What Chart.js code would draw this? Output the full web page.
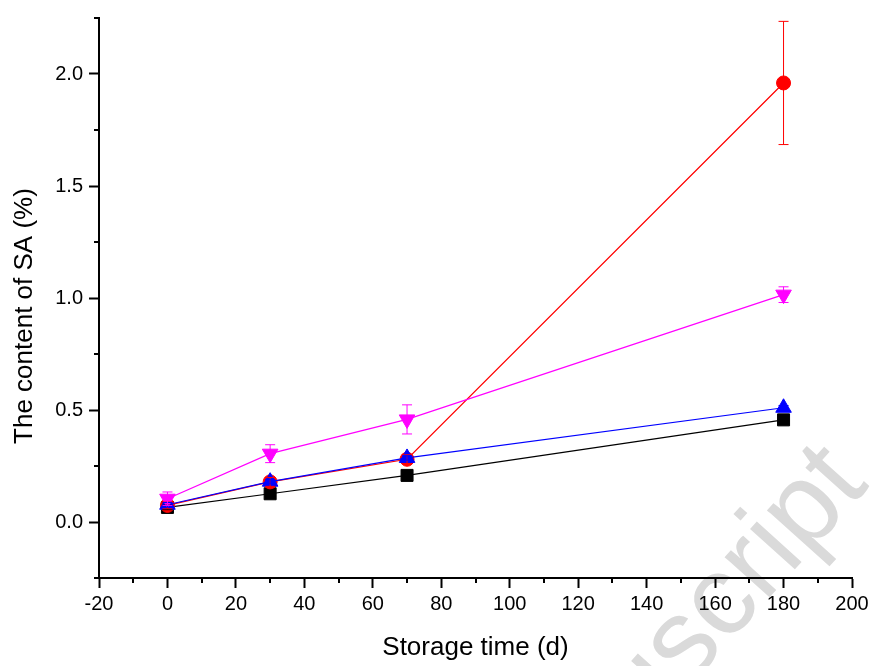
<!DOCTYPE html>
<html>
<head>
<meta charset="utf-8">
<script src="https://cdn.jsdelivr.net/npm/chart.js@4"></script>
<style>
  body { margin: 0; background: #fff; }
  canvas { display: block; }
</style>
</head>
<body>
<canvas id="saChart" width="877" height="666"></canvas>
<script>
// storage time (days)
const days = [0, 30, 70, 180];

// SA content (%) for each treatment, with error bars
const blackVals = [0.065, 0.126, 0.208, 0.456];
const blackErr = [0.01, 0.01, 0.01, 0.01];
const redVals = [0.074, 0.179, 0.28, 1.96];
const redErr = [0.015, 0.02, 0.02, 0.275];
const blueVals = [0.077, 0.18, 0.286, 0.51];
const blueErr = [0.01, 0.01, 0.01, 0.01];
const magentaVals = [0.104, 0.305, 0.458, 1.015];
const magentaErr = [0.03, 0.04, 0.065, 0.035];

const yTickVals = [0, 0.5, 1.0, 1.5, 2.0];
const xMinorTicks = [-10, 10, 30, 50, 70, 90, 110, 130, 150, 170, 190];
const yMinorTicks = [-0.25, 0.25, 0.75, 1.25, 1.75, 2.25];

const FONT = "Arial, 'Liberation Sans', sans-serif";

function toPoints(vals) {
    return days.map((d, i) => ({ x: d, y: vals[i] }));
}

function makeSet(vals, errs, color, style, radius, rotation, order) {
    return {
        data: toPoints(vals),
        errors: errs,
        borderColor: color,
        backgroundColor: color,
        borderWidth: 1.2,
        pointStyle: style,
        pointRadius: radius,
        pointRotation: rotation,
        pointBackgroundColor: color,
        pointBorderColor: color,
        pointBorderWidth: 1,
        order: order,
        tension: 0
    };
}

// draw error bars from each dataset's errors array
const errorBarPlugin = {
    id: 'errorBars',
    afterDatasetsDraw(chart) {
        const ctx = chart.ctx;
        const ys = chart.scales.y;
        const xs = chart.scales.x;
        ctx.save();
        chart.data.datasets.forEach(ds => {
            ctx.strokeStyle = ds.borderColor;
            ctx.lineWidth = 1;
            ds.data.forEach((p, i) => {
                const e = ds.errors[i];
                const px = xs.getPixelForValue(p.x);
                const top = ys.getPixelForValue(p.y + e);
                const bot = ys.getPixelForValue(p.y - e);
                ctx.beginPath();
                ctx.moveTo(px, top); ctx.lineTo(px, bot);
                ctx.moveTo(px - 5, top); ctx.lineTo(px + 5, top);
                ctx.moveTo(px - 5, bot); ctx.lineTo(px + 5, bot);
                ctx.stroke();
            });
        });
        ctx.restore();
    }
};

// minor ticks, outward like the major ones
const minorTickPlugin = {
    id: 'minorTicks',
    afterDraw(chart) {
        const ctx = chart.ctx;
        const xs = chart.scales.x;
        const ys = chart.scales.y;
        const area = chart.chartArea;
        ctx.save();
        ctx.strokeStyle = '#000';
        ctx.lineWidth = 2;
        ctx.beginPath();
        xMinorTicks.forEach(v => {
            const px = Math.round(xs.getPixelForValue(v));
            ctx.moveTo(px, area.bottom);
            ctx.lineTo(px, area.bottom + 5);
        });
        yMinorTicks.forEach(v => {
            const py = Math.round(ys.getPixelForValue(v));
            ctx.moveTo(area.left, py);
            ctx.lineTo(area.left - 5, py);
        });
        ctx.stroke();
        ctx.restore();
    }
};

// faint journal watermark behind the plot
const watermarkPlugin = {
    id: 'watermark',
    beforeDraw(chart) {
        const ctx = chart.ctx;
        ctx.save();
        ctx.font = '114px ' + FONT;
        ctx.fillStyle = '#dadada';
        ctx.translate(688, 688);
        ctx.rotate(-48 * Math.PI / 180);
        const pre = ctx.measureText('Manu').width;
        ctx.textBaseline = 'alphabetic';
        ctx.fillText('Manuscript', -pre, 0);
        ctx.restore();
    }
};

const ctx = document.getElementById('saChart').getContext('2d');
const saChart = new Chart(ctx, {
    type: 'line',
    data: {
        datasets: [
            makeSet(blackVals, blackErr, '#000000', 'rect', 8.5, 0, 3),
            makeSet(redVals, redErr, '#ff0000', 'circle', 7, 0, 2),
            makeSet(blueVals, blueErr, '#0000ff', 'triangle', 9, 0, 1),
            makeSet(magentaVals, magentaErr, '#ff00ff', 'triangle', 9, 180, 0)
        ]
    },
    options: {
        responsive: false,
        animation: false,
        devicePixelRatio: 1,
        layout: { padding: { top: 16, right: 25, left: 0, bottom: 0 } },
        plugins: {
            legend: { display: false },
            tooltip: { enabled: false }
        },
        scales: {
            x: {
                type: 'linear',
                min: -20,
                max: 200,
                ticks: {
                    stepSize: 20,
                    color: '#000',
                    padding: 4,
                    maxRotation: 0,
                    font: { size: 20, family: FONT }
                },
                grid: { drawOnChartArea: false, tickLength: 10, tickWidth: 2, tickColor: '#000' },
                border: { color: '#000', width: 2 },
                title: {
                    display: true,
                    text: 'Storage time (d)',
                    color: '#000',
                    font: { size: 26, family: FONT },
                    padding: { top: 0, bottom: 3 }
                },
                afterFit: s => { s.height = 88; }
            },
            y: {
                type: 'linear',
                min: -0.25,
                max: 2.25,
                afterBuildTicks: s => { s.ticks = yTickVals.map(v => ({ value: v })); },
                ticks: {
                    color: '#000',
                    padding: 6,
                    font: { size: 20, family: FONT },
                    callback: v => Number(v).toFixed(1)
                },
                grid: { drawOnChartArea: false, tickLength: 10, tickWidth: 2, tickColor: '#000' },
                border: { color: '#000', width: 2 },
                title: {
                    display: true,
                    // trailing spaces push the label a little below the axis middle, as in the original
                    text: 'The content of SA (%)     ',
                    color: '#000',
                    font: { size: 26, family: FONT },
                    padding: { top: 9, bottom: 0 }
                },
                afterFit: s => { s.width = 99; }
            }
        }
    },
    plugins: [watermarkPlugin, errorBarPlugin, minorTickPlugin]
});
</script>
</body>
</html>
